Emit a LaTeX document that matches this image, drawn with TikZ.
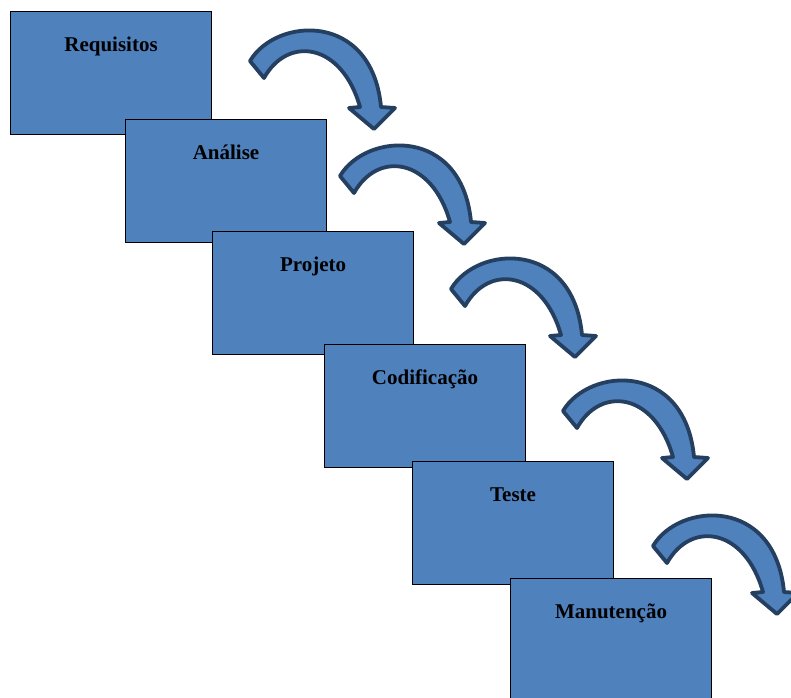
\documentclass[tikz,border=0pt]{standalone}
\usepackage{fontspec}
\setmainfont{Liberation Serif}
\begin{document}
\definecolor{stagefill}{HTML}{4F81BD}
\definecolor{arrowline}{HTML}{243F60}
\begin{tikzpicture}[x=1pt, y=-1pt,
  stagebox/.style={draw=black, line width=1.1pt, fill=stagefill,
    minimum width=201pt, minimum height=123pt, anchor=north west, inner sep=0pt},
  stagelabel/.style={anchor=base, inner sep=0pt,
    font=\fontsize{21}{25}\selectfont\bfseries},
  flowarrow/.pic={
    \filldraw[fill=stagefill, draw=arrowline, line width=3.8pt, line join=round]
      (0,0) .. controls (26,-44) and (122,-50) .. (131,46)
      -- (145,47) -- (124,68) -- (99,47) -- (110,46)
      .. controls (92,-18) and (38,-26) .. (14,17) -- cycle;
  }]
  \useasboundingbox (0,0) rectangle (791,697);

  % the six stages, each one overlapping the previous
  \node[stagebox] (req) at (10,11)  {};
  \node[stagelabel] (req-t) at ([yshift=-40pt]req.north) {Requisitos};
  \node[stagebox] (ana) at (125,119) {};
  \node[stagelabel] (ana-t) at ([yshift=-40pt]ana.north) {Análise};
  \node[stagebox] (prj) at (212,231) {};
  \node[stagelabel] (prj-t) at ([yshift=-40pt]prj.north) {Projeto};
  \node[stagebox] (cod) at (324,344) {};
  \node[stagelabel] (cod-t) at ([yshift=-40pt]cod.north) {Codificação};
  \node[stagebox] (tst) at (412,461) {};
  \node[stagelabel] (tst-t) at ([yshift=-40pt]tst.north) {Teste};
  \node[stagebox] (man) at (510,578) {};
  \node[stagelabel] (man-t) at ([yshift=-40pt]man.north) {Manutenção};

  % curved arrows leading down to the next stage
  \pic (a1) at (250,61)  {flowarrow};
  \pic (a2) at (340,176) {flowarrow};
  \pic (a3) at (451,289) {flowarrow};
  \pic (a4) at (563,411) {flowarrow};
  \pic (a5) at (653,546) {flowarrow};
\end{tikzpicture}
\end{document}
